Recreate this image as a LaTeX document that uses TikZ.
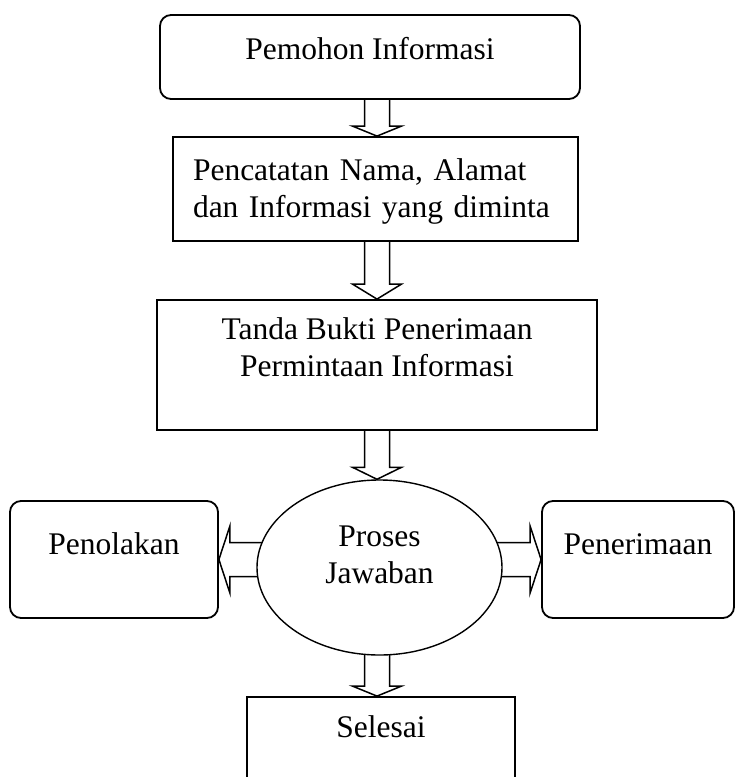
\documentclass[tikz,border=0pt]{standalone}
\usepackage{fontspec}
\setmainfont{Liberation Serif}
\usetikzlibrary{positioning,shapes.geometric,calc,backgrounds}
% panah blok: #1 pangkal, #2 ujung, #3 panjang kepala, #4 setengah batang, #5 setengah kepala
\newcommand{\blok}[5]{%
  \draw[blk] ($(#1)!#4!90:(#2)$) -- ($(#2)!#3!(#1)!#4!90:(#2)$) -- ($(#2)!#3!(#1)!#5!90:(#2)$)
    -- (#2) -- ($(#2)!#3!(#1)!#5!-90:(#2)$) -- ($(#2)!#3!(#1)!#4!-90:(#2)$)
    -- ($(#1)!#4!-90:(#2)$) -- cycle;}

\begin{document}
\begin{tikzpicture}[x=1pt, y=-1pt, font=\fontsize{31.5}{37}\selectfont,
      kotak/.style={draw, line width=1.8pt, fill=white, inner sep=0pt, text height=21pt},
      bulat/.style={kotak, rounded corners=11pt},
      blk/.style={draw, line width=1.5pt, fill=white}]
  \useasboundingbox (0,0) rectangle (735,777);
  \clip (0,0) rectangle (735,777);
  \coordinate (axis) at (377,0);
  \node[bulat, minimum width=420pt, minimum height=84pt, text depth=17pt] (pemohon) at (370,57) {Pemohon Informasi};
  \node[kotak, minimum width=405pt, minimum height=104pt, text width=365pt, align=left, text depth=38pt] (catat) at (375.5,189)
    {Pencatatan Nama, Alamat\\dan Informasi yang diminta};
  \node[kotak, minimum width=440pt, minimum height=130pt, align=center, text height=58pt, text depth=36pt] (tanda) at (377,365)
    {Tanda Bukti Penerimaan\\Permintaan Informasi};
  \node[kotak, ellipse, line width=1.4pt, minimum width=245pt, minimum height=175pt, align=center,
        text height=58pt, text depth=27pt] (proses) at (379.5,567.5) {Proses\\Jawaban};
  \node[bulat, minimum width=208pt, minimum height=117pt, text depth=32pt] (tolak) at (114,559.5) {Penolakan};
  \node[bulat, minimum width=192pt, minimum height=117pt, text depth=32pt] (terima) at (638,559.5) {Penerimaan};
  \node[kotak, minimum width=268pt, minimum height=120pt, text depth=61pt] (selesai) at (381,757) {Selesai};
  \begin{scope}[on background layer]
    \foreach \a/\b/\h in {pemohon/catat/10pt, catat/tanda/15pt, tanda/proses/12pt, proses/selesai/10pt}
      {\blok{\a -| axis}{\b.north -| axis}{\h}{12.5pt}{24.5pt}}
    \blok{proses |- tolak.east}{tolak.east}{11pt}{17pt}{33.5pt}
    \blok{proses |- terima.west}{terima.west}{11pt}{17pt}{33.5pt}
  \end{scope}
\end{tikzpicture}
\end{document}
